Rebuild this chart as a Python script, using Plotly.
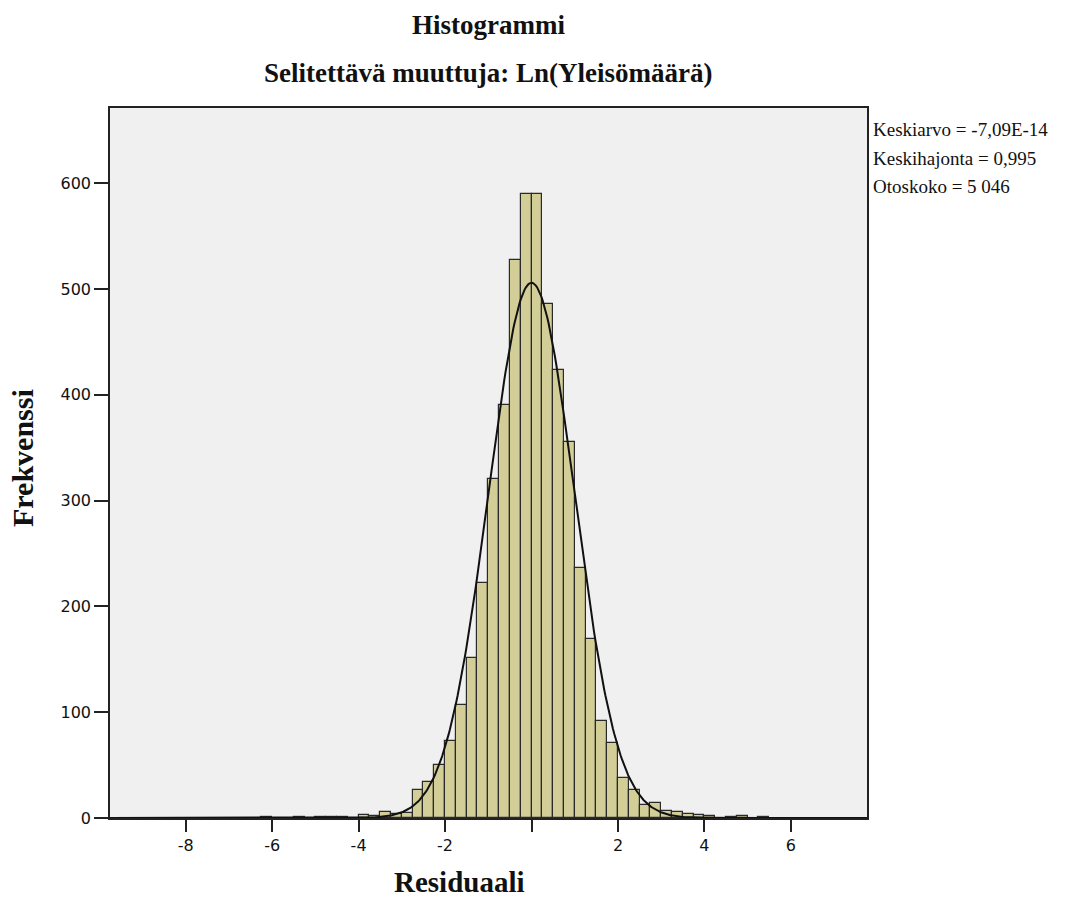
import numpy as np
import plotly.graph_objects as go

# Bin left edges (width 0.25) and frequencies
bin_left = [-6.25, -5.5, -5.0, -4.75, -4.5, -4.0, -3.75, -3.5, -3.25, -3.0,
            -2.75, -2.5, -2.25, -2.0, -1.75, -1.5, -1.25, -1.0, -0.75, -0.5,
            -0.25, 0.0, 0.25, 0.5, 0.75, 1.0, 1.25, 1.5, 1.75, 2.0,
            2.25, 2.5, 2.75, 3.0, 3.25, 3.5, 3.75, 4.0, 4.5, 4.75, 5.25]
freq = [1, 1, 1, 1, 1, 3, 2, 6, 4, 5,
        26, 34, 50, 73, 107, 151, 222, 320, 390, 527,
        590, 590, 486, 423, 355, 236, 169, 92, 71, 38,
        26, 12, 14, 7, 6, 4, 3, 2, 1, 2, 1]
bin_width = 0.25

# Summary statistics shown on the chart
mean_val = -7.09e-14
sd_val = 0.995
n_val = 5046
stat_lines = ["Keskiarvo = -7,09E-14", "Keskihajonta = 0,995", "Otoskoko = 5 046"]

x_ticks = [-8, -6, -4, -2, 0, 2, 4, 6]
x_ticktext = ["-8", "-6", "-4", "-2", "", "2", "4", "6"]
y_ticks = [0, 100, 200, 300, 400, 500, 600]

x_range = [-9.75, 7.76]
y_range = [0, 671]

centers = [b + bin_width / 2 for b in bin_left]

fig = go.Figure()
fig.add_trace(go.Bar(
    x=centers, y=freq, width=bin_width,
    marker=dict(color="#D3CE98", line=dict(color="#2a2a2a", width=1.2)),
    showlegend=False, hoverinfo="x+y",
))

# Normal curve from the displayed statistics
xc = np.linspace(x_range[0], x_range[1], 600)
yc = n_val * bin_width / (sd_val * np.sqrt(2 * np.pi)) * np.exp(-0.5 * ((xc - mean_val) / sd_val) ** 2)
fig.add_trace(go.Scatter(x=xc, y=yc, mode="lines",
                         line=dict(color="#111111", width=2), showlegend=False))

serif = "Liberation Serif, Times New Roman, serif"
sans = "DejaVu Sans, Arial, sans-serif"

L, T, PW, PH = 110, 108, 757, 710
W, H = 1086, 902

fig.update_layout(
    width=W, height=H,
    margin=dict(l=L, r=W - L - PW, t=T, b=H - T - PH),
    paper_bgcolor="white", plot_bgcolor="#F0F0F0",
    bargap=0,
    xaxis=dict(range=x_range, tickvals=x_ticks, ticktext=x_ticktext,
               ticks="outside", ticklen=12, tickcolor="#222", tickwidth=1.5,
               showgrid=False, zeroline=False,
               showline=True, linecolor="#222", linewidth=1.5, mirror=True,
               tickfont=dict(family=sans, size=16, color="#111")),
    yaxis=dict(range=y_range, tickvals=y_ticks,
               ticks="outside", ticklen=14, tickcolor="#222", tickwidth=1.5,
               showgrid=False, zeroline=False,
               showline=True, linecolor="#222", linewidth=1.5, mirror=True,
               tickfont=dict(family=sans, size=16, color="#111")),
)

def px_ann(text, x_px, y_px, size, **kw):
    # place text at page pixel coordinates
    fig.add_annotation(text=text, xref="paper", yref="paper",
                       x=(x_px - L) / PW, y=1 - (y_px - T) / PH,
                       showarrow=False, font=dict(family=serif, size=size, color="#111"), **kw)

px_ann("<b>Histogrammi</b>", 488, 25, 27, xanchor="center", yanchor="middle")
px_ann("<b>Selitettävä muuttuja: Ln(Yleisömäärä)</b>", 488, 73, 27, xanchor="center", yanchor="middle")
px_ann("<b>Residuaali</b>", 459, 882, 29, xanchor="center", yanchor="middle")
px_ann("<b>Frekvenssi</b>", 22, 458, 30, xanchor="center", yanchor="middle", textangle=-90)
for i, line in enumerate(stat_lines):
    px_ann(line, 871, 130 + 28.5 * i, 19, xanchor="left", yanchor="middle")

fig.write_html("out.html", config={"displayModeBar": False},
               post_script="document.body.style.margin='0';")
